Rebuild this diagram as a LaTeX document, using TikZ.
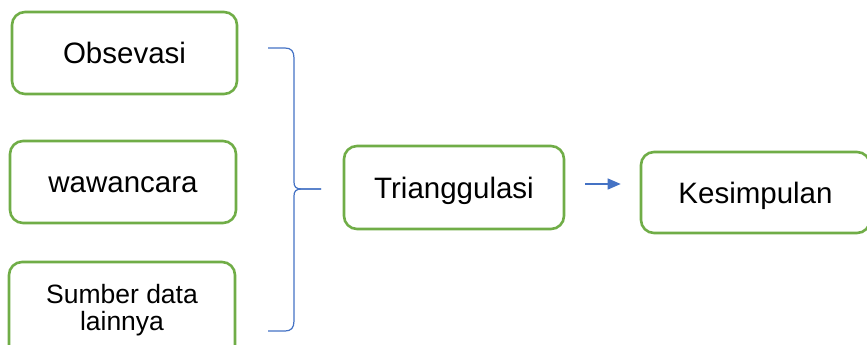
\documentclass[tikz,border=0pt]{standalone}
\usepackage{fontspec}
\setmainfont{Liberation Sans}
\usetikzlibrary{arrows.meta}
\definecolor{boxgreen}{HTML}{70AD47}
\definecolor{linkblue}{HTML}{4472C4}
\begin{document}
\begin{tikzpicture}[x=1pt,y=-1pt,
  box/.style={draw=boxgreen, line width=2.6pt, rounded corners=13pt, fill=white,
    inner sep=0pt, align=center, font=\fontsize{29.5}{31}\selectfont},
  onetext/.style={text height=21pt, text depth=0pt},
  brace/.style={draw=linkblue, line width=1.2pt},
  arr/.style={draw=linkblue, line width=1.3pt, -{Triangle[length=13pt,width=11pt]}}]
\useasboundingbox (0,0) rectangle (867,345);
\clip (0,0) rectangle (867,345);
\node[box, onetext, minimum width=225pt, minimum height=82pt] (obs) at (124.5,53) {Obsevasi};
\node[box, onetext, minimum width=226pt, minimum height=82pt] (waw) at (123,182) {wawancara};
\node[box, minimum width=226pt, minimum height=96pt, font=\fontsize{26.5}{27.5}\selectfont] (sum) at (122,310) {Sumber data\\lainnya};
\node[box, onetext, minimum width=220pt, minimum height=83pt] (tri) at (454,187.5) {Trianggulasi};
\node[box, onetext, minimum width=229pt, minimum height=81pt] (kes) at (755.5,192.5) {Kesimpulan};
% brace
\coordinate (btop) at (268,48);
\coordinate (btip) at (321,189);
\coordinate (bbot) at (268,331);
\draw[brace] (btop) -- (285,48) .. controls (291,48) and (294,51) .. (294,58)
  -- (294,182) .. controls (294,187) and (296,189) .. (302,189) -- (btip);
\draw[brace] (btip) -- (302,189) .. controls (296,189) and (294,191) .. (294,196)
  -- (294,321) .. controls (294,328) and (291,331) .. (285,331) -- (bbot);
% arrow
\draw[arr, shorten <=20pt, shorten >=19pt] ([yshift=3.5pt]tri.east) -- ([yshift=3.5pt]tri.east -| kes.west);
\end{tikzpicture}
\end{document}
